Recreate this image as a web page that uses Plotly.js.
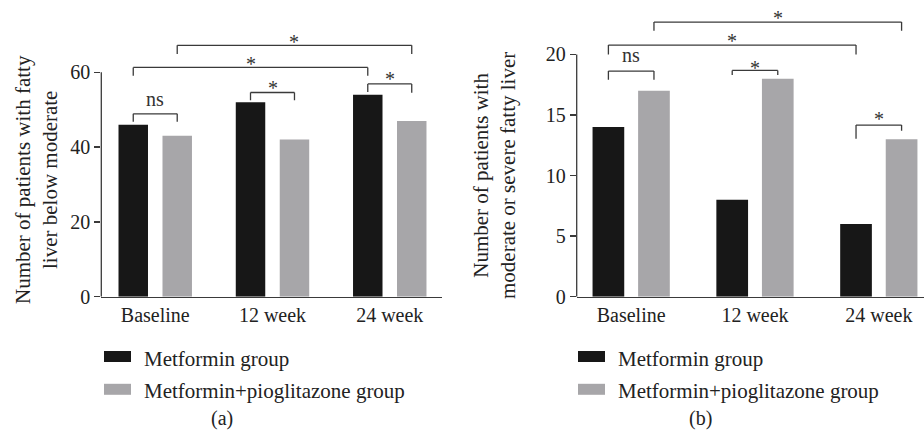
<!DOCTYPE html>
<html>
<head>
<meta charset="utf-8">
<script src="https://cdn.plot.ly/plotly-3.0.1.min.js"></script>
<style>html,body{margin:0;padding:0;background:#fff;}#chart{width:924px;height:438px;}</style>
</head>
<body>
<div id="chart"></div>
<script>
// ---- data ----
const categories = ['Baseline', '12 week', '24 week'];
const seriesNames = ['Metformin group', 'Metformin+pioglitazone group'];
const metforminA = [46, 52, 54];
const comboA = [43, 42, 47];
const metforminB = [14, 8, 6];
const comboB = [17, 18, 13];
const yTicksA = [0, 20, 40, 60];
const yTicksB = [0, 5, 10, 15, 20];
const panelLabels = ['(a)', '(b)'];
const titleA = 'Number of patients with fatty<br>liver below moderate';
const titleB = 'Number of patients with<br>moderate or severe fatty liver';
// significance brackets: [catFrom, seriesFrom, catTo, seriesTo, label]
const sigPairs = [[0,0,0,1,'ns'],[1,0,1,1,'*'],[2,0,2,1,'*'],[0,0,2,0,'*'],[0,1,2,1,'*']];

// ---- styling / positions ----
const W = 924, H = 438;
const FONT = '"Liberation Serif", "DejaVu Serif", serif';
const C_BLACK = '#171717', C_GRAY = '#a7a6a9', C_LINE = '#3a3a3a';
// bracket heights (data units): [top, leftLegEnd, rightLegEnd, labelY]
const bracketA = [[48.9,46.8,46.8,52.3],[54.6,52.5,52.5,57.2],[56.9,54.7,54.5,59.5],[61.3,59.1,59.1,63.5],[67.2,64.9,64.9,69.5]];
const bracketB = [[18.62,17.9,17.9,19.75],[18.68,18.3,18.3,19.31],[14.17,13.04,13.7,15.1],[20.77,20.0,20.0,21.51],[22.67,21.95,21.95,23.43]];

const px = x => x / W;
const py = y => 1 - y / H;

const panels = [
  {xa:'x', ya:'y', vals:[metforminA, comboA], ticks: yTicksA, ymax: 60, range:[0,72], xr:[-0.46,2.443], xd:[px(101.3), px(441.7)], yd:[py(296.7), py(27.4)], off:0.1875, bw:0.2514, br: bracketA,
   title: titleA, titleX: 36, titleY: 180, legX: 104, label: panelLabels[0], labelX: 221.7},
  {xa:'x2', ya:'y2', vals:[metforminB, comboB], ticks: yTicksB, ymax: 20, range:[0,24], xr:[-0.44,2.365], xd:[px(576.7), 1], yd:[py(296.7), py(5.94)], off:0.184, bw:0.256, br: bracketB,
   title: titleB, titleX: 494, titleY: 176, legX: 578, label: panelLabels[1], labelX: 700}
];

const data = [];
const shapes = [];
const annotations = [];
const layout = {
  width: W, height: H, margin: {l:0, r:0, t:0, b:0},
  paper_bgcolor: '#fff', plot_bgcolor: '#fff',
  showlegend: false, barmode: 'overlay',
  font: {family: FONT, color: '#222', size: 20},
  shapes, annotations
};

panels.forEach((p, pi) => {
  const colors = [C_BLACK, C_GRAY];
  p.vals.forEach((v, si) => {
    const center = si === 0 ? -p.off : p.off;
    data.push({type:'bar', x: categories, y: v, name: seriesNames[si], xaxis: p.xa, yaxis: p.ya,
      width: p.bw, offset: center - p.bw / 2,
      marker:{color: colors[si], line:{width:0}}, opacity: 1, hoverinfo:'skip'});
  });
  const xk = pi === 0 ? 'xaxis' : 'xaxis2';
  const yk = pi === 0 ? 'yaxis' : 'yaxis2';
  layout[xk] = {domain: p.xd, anchor: p.ya, type:'category', range: p.xr, showgrid:false, zeroline:false,
    showline:true, linecolor: C_LINE, linewidth: 1.3, ticks:'', tickfont:{size:20, family: FONT, color:'#222'}, fixedrange:true};
  layout[yk] = {domain: p.yd, anchor: p.xa, range: p.range, tickvals: p.ticks, ticktext: p.ticks.map(String),
    showgrid:false, zeroline:false, showline:false, ticks:'outside', ticklen:6, tickwidth:1.3, tickcolor: C_LINE,
    tickfont:{size:20, family: FONT, color:'#222'}, fixedrange:true};
  // y axis line only up to top tick
  shapes.push({type:'line', xref: p.xa + ' domain', yref: p.ya, x0:0, x1:0, y0:0, y1:p.ymax, line:{color:C_LINE, width:1.3}});
  // brackets
  sigPairs.forEach((s, bi) => {
    const b = p.br[bi];
    const xa = s[0] + (s[1] === 0 ? -p.off : p.off);
    const xb = s[2] + (s[3] === 0 ? -p.off : p.off);
    const ln = {color: C_LINE, width: 1.3};
    shapes.push({type:'line', xref:p.xa, yref:p.ya, x0:xa, x1:xa, y0:b[1], y1:b[0], line:ln});
    shapes.push({type:'line', xref:p.xa, yref:p.ya, x0:xa, x1:xb, y0:b[0], y1:b[0], line:ln});
    shapes.push({type:'line', xref:p.xa, yref:p.ya, x0:xb, x1:xb, y0:b[0], y1:b[2], line:ln});
    const isStar = s[4] === '*';
    annotations.push({xref:p.xa, yref:p.ya, x:(xa+xb)/2, y:b[3], text:s[4], showarrow:false,
      xanchor:'center', yanchor:'middle', yshift: isStar ? -5 : 2,
      font:{size: 20, family: FONT, color:'#333'}});
  });
  // y title
  annotations.push({xref:'paper', yref:'paper', x:px(p.titleX), y:py(p.titleY), text:p.title, textangle:-90,
    showarrow:false, xanchor:'center', yanchor:'middle', align:'center', font:{size:21, family:FONT, color:'#222'}});
  // legend (manual swatches)
  const rows = [356.5, 389.3];
  seriesNames.forEach((nm, si) => {
    shapes.push({type:'rect', xref:'paper', yref:'paper', x0:px(p.legX), x1:px(p.legX+27), y0:py(rows[si]+5.5), y1:py(rows[si]-5.5),
      fillcolor: colors[si], line:{width:0}});
    annotations.push({xref:'paper', yref:'paper', x:px(p.legX+37.5), y:py(rows[si]), text:nm, showarrow:false,
      xanchor:'left', yanchor:'middle', yshift:-2, font:{size:21, family:FONT, color:'#222'}});
  });
  annotations.push({xref:'paper', yref:'paper', x:px(p.labelX), y:py(418.5), text:p.label, showarrow:false,
    xanchor:'center', yanchor:'middle', font:{size:20, family:FONT, color:'#222'}});
});

Plotly.newPlot('chart', data, layout, {displayModeBar:false, staticPlot:true});
</script>
</body>
</html>
